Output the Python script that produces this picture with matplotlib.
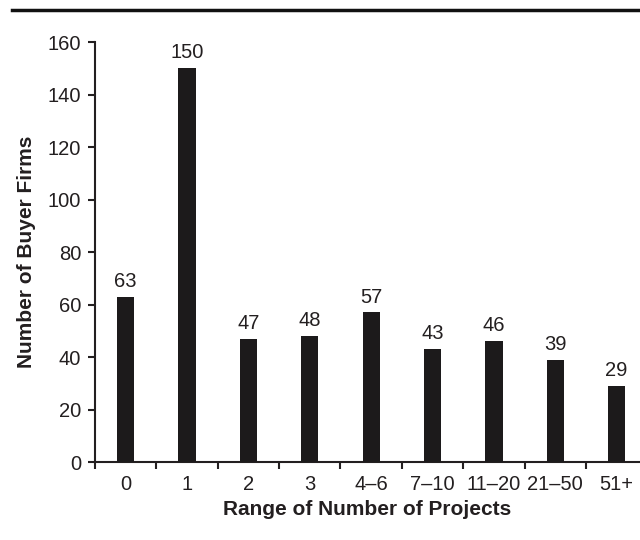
import matplotlib
matplotlib.use("Agg")
import matplotlib.pyplot as plt
from matplotlib.lines import Line2D

categories = ['0', '1', '2', '3', '4\u20136', '7\u201310', '11\u201320', '21\u201350', '51+']
firms = [63, 150, 47, 48, 57, 43, 46, 39, 29]

plt.rcParams['font.family'] = ['Liberation Sans', 'DejaVu Sans']
ink = '#231f20'

fig = plt.figure(figsize=(6.4, 5.4), dpi=100)
ax = fig.add_axes([0.1484, 0.1444, 0.8516, 0.7778])

x = list(range(len(categories)))
ax.bar(x, firms, width=0.28, color='#1c1a1b', zorder=3)
for xi, v in zip(x, firms):
    ax.text(xi, v + 2.2, str(v), ha='center', va='bottom', fontsize=14.5, color=ink)

ax.set_xlim(-0.5, 8.38)
ax.set_ylim(0, 160)
ax.set_yticks(range(0, 161, 20))
ax.set_xticks([i - 0.5 for i in x])
ax.set_xticklabels([])
ax.set_xticks(x, minor=True)
ax.set_xticklabels(categories, minor=True)
ax.tick_params(axis='x', which='minor', length=0, pad=9, labelsize=14.5, labelcolor=ink)
ax.tick_params(axis='x', which='major', length=5, width=1.5, color=ink)
ax.tick_params(axis='y', length=5, width=1.5, color=ink, labelsize=14.5, labelcolor=ink, pad=5)

for s in ['top', 'right']:
    ax.spines[s].set_visible(False)
for s in ['left', 'bottom']:
    ax.spines[s].set_linewidth(1.5)
    ax.spines[s].set_color(ink)

ax.set_xlabel('Range of Number of Projects', fontsize=15, fontweight='bold', color=ink, labelpad=5)
ax.set_ylabel('Number of Buyer Firms', fontsize=15, fontweight='bold', color=ink, labelpad=8)

# rule across the top of the figure
fig.add_artist(Line2D([12 / 640, 1.0], [1 - 10 / 540, 1 - 10 / 540], color='#111111', linewidth=2.5))

fig.savefig('out.png', dpi=100)
